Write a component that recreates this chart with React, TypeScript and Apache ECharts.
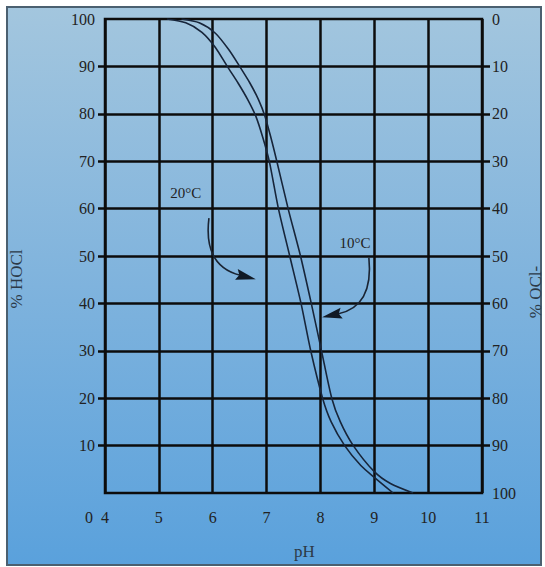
import React, { useEffect, useRef } from "react";
import * as echarts from "echarts";

// pH axis (x), % HOCl (left y), % OCl- (right y, inverted)
const phMin = 4;
const phMax = 11;
const hoclTickValues = [10, 20, 30, 40, 50, 60, 70, 80, 90];
const hoclLabelValues = [10, 20, 30, 40, 50, 60, 70, 80, 90, 100];
const oclLabelValues = [0, 10, 20, 30, 40, 50, 60, 70, 80, 90, 100];

// [pH, % HOCl]
const curve20C: [number, number][] = [
  [5.15, 100], [5.5, 99.2], [5.8, 97.2], [6.05, 94], [6.27, 90], [6.47, 86.5],
  [6.65, 83], [6.8, 79.5], [6.93, 75], [7.05, 70], [7.22, 60], [7.43, 50],
  [7.64, 40], [7.82, 30], [8.04, 20], [8.2, 15], [8.45, 10], [8.75, 5.8],
  [9.0, 3.3], [9.35, 0],
];
const curve10C: [number, number][] = [
  [5.42, 100], [5.75, 99.2], [6.05, 97], [6.3, 93.5], [6.5, 90], [6.69, 86.5],
  [6.85, 83], [6.97, 79.5], [7.08, 75], [7.19, 70], [7.4, 60], [7.63, 50],
  [7.83, 40], [8.02, 30], [8.21, 20], [8.37, 15], [8.61, 10], [9.0, 4.5],
  [9.3, 2], [9.72, 0],
];

// annotations in data coordinates [pH, %HOCl]
const label20: [number, number] = [5.5, 63.3];
const arrow20 = { start: [5.93, 58.0], ctrl: [5.82, 47.9], tip: [6.8, 45.1] };
const label10: [number, number] = [8.64, 52.7];
const arrow10 = { start: [8.9, 49.6], ctrl: [8.99, 39.3], tip: [8.03, 37.1] };

const FONT = "'Liberation Serif', 'DejaVu Serif', serif";
const GRID_COLOR = "#0c0c0c";
const CURVE_COLOR = "#17253a";

export default function App() {
  const ref = useRef<HTMLDivElement>(null);
  useEffect(() => {
    if (!ref.current) return;
    const chart = echarts.init(ref.current, null, { renderer: "svg" });
    const gridLine = { color: GRID_COLOR, width: 2.5 };
    chart.setOption({
      animation: false,
      grid: {
        left: 105, right: 63, top: 19, bottom: 74,
        show: true, borderColor: GRID_COLOR, borderWidth: 2.5,
        backgroundColor: "transparent",
        containLabel: false,
        outerBoundsMode: "none",
      },
      xAxis: {
        type: "value", min: phMin, max: phMax, interval: 1,
        name: "pH", nameLocation: "middle", nameGap: 50,
        nameTextStyle: { fontFamily: FONT, fontSize: 17, color: "#2c3a48", padding: [0, 0, 0, 22] },
        axisLine: { show: false }, axisTick: { show: false },
        splitLine: { show: true, lineStyle: gridLine },
        axisLabel: { margin: 16, fontFamily: FONT, fontSize: 16, color: "#222" },
      },
      yAxis: [
        {
          type: "value", min: 0, max: 100, interval: 10, position: "left",
          name: "% HOCl", nameLocation: "middle", nameGap: 80, nameRotate: 90,
          nameTextStyle: { fontFamily: FONT, fontSize: 17, color: "#2c3a48", padding: [0, 46, 0, 0] },
          axisLine: { show: false },
          axisTick: { show: true, length: 7, lineStyle: gridLine, customValues: hoclTickValues },
          axisLabel: { margin: 10, fontFamily: FONT, fontSize: 16, color: "#222", customValues: hoclLabelValues },
          splitLine: { show: true, lineStyle: gridLine },
        },
        {
          type: "value", min: 0, max: 100, interval: 10, position: "right", inverse: true,
          name: "% OCl-", nameLocation: "middle", nameGap: 38, nameRotate: 90,
          nameTextStyle: { fontFamily: FONT, fontSize: 17, color: "#2c3a48", padding: [0, 72, 0, 0] },
          axisLine: { show: false },
          axisTick: { show: true, length: 8, lineStyle: gridLine, customValues: hoclTickValues },
          axisLabel: { margin: 10, fontFamily: FONT, fontSize: 16, color: "#222", customValues: oclLabelValues },
          splitLine: { show: false },
        },
      ],
      series: [
        {
          name: "20°C", type: "line", yAxisIndex: 0, data: curve20C, smooth: 0.25,
          symbol: "none", lineStyle: { color: CURVE_COLOR, width: 1.6 }, z: 5,
        },
        {
          name: "10°C", type: "line", yAxisIndex: 0, data: curve10C, smooth: 0.25,
          symbol: "none", lineStyle: { color: CURVE_COLOR, width: 1.6 }, z: 5,
        },
      ],
    });

    const px = (p: number[]) => chart.convertToPixel({ gridIndex: 0 }, p) as number[];
    const arrow = (a: { start: number[]; ctrl: number[]; tip: number[] }) => {
      const s = px(a.start), c = px(a.ctrl), t = px(a.tip);
      let dx = t[0] - c[0], dy = t[1] - c[1];
      const len = Math.hypot(dx, dy);
      dx /= len; dy /= len;
      const L = 20, W = 5.5;
      const bx = t[0] - dx * L, by = t[1] - dy * L;
      const pxp = -dy, pyp = dx;
      return [
        {
          type: "bezierCurve", silent: true, z: 20,
          shape: { x1: s[0], y1: s[1], cpx1: c[0], cpy1: c[1], x2: bx + dx * 4, y2: by + dy * 4 },
          style: { stroke: "#1a2433", lineWidth: 1.6, fill: "none" },
        },
        {
          type: "polygon", silent: true, z: 20,
          shape: { points: [[t[0], t[1]], [bx + pxp * W, by + pyp * W], [bx + dx * 3, by + dy * 3], [bx - pxp * W, by - pyp * W]] },
          style: { fill: "#111a26" },
        },
      ];
    };
    const l20 = px(label20);
    const l10 = px(label10);
    const origin = px([phMin, 0]);

    chart.setOption({
      graphic: [
        {
          type: "rect", silent: true, z: -10,
          shape: { x: 7, y: 7, width: 534, height: 558 },
          style: {
            fill: new echarts.graphic.LinearGradient(0, 0, 0, 1, [
              { offset: 0, color: "#a3c6de" },
              { offset: 0.5, color: "#7fb3dd" },
              { offset: 1, color: "#5aa1dc" },
            ]),
            stroke: "#4b6070", lineWidth: 2,
          },
        },
        {
          type: "text", silent: true, z: 20, x: l20[0], y: l20[1],
          style: { text: "20°C", fontFamily: FONT, fontSize: 15, fill: "#222", align: "center", verticalAlign: "middle" },
        },
        {
          type: "text", silent: true, z: 20, x: l10[0], y: l10[1],
          style: { text: "10°C", fontFamily: FONT, fontSize: 15, fill: "#222", align: "center", verticalAlign: "middle" },
        },
        {
          type: "text", silent: true, z: 20, x: origin[0] - 16, y: origin[1] + 24,
          style: { text: "0", fontFamily: FONT, fontSize: 16, fill: "#222", align: "center", verticalAlign: "middle" },
        },
        ...arrow(arrow20),
        ...arrow(arrow10),
      ],
    });

    return () => chart.dispose();
  }, []);

  return (
    <div style={{ position: "absolute", left: 0, top: 0, width: 545, height: 567, background: "#fff" }}>
      <div ref={ref} style={{ width: 545, height: 567 }} />
    </div>
  );
}
